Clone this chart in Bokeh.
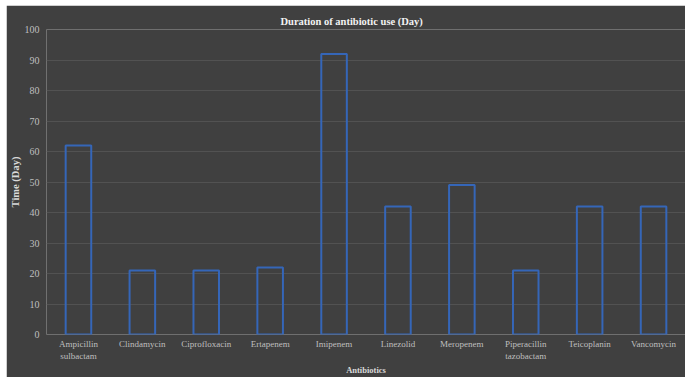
from bokeh.plotting import figure
from bokeh.models import FactorRange, FixedTicker, ColumnDataSource
from bokeh.embed import file_html
from bokeh.resources import INLINE

antibiotics = ["Ampicillin\nsulbactam", "Clindamycin", "Ciprofloxacin", "Ertapenem",
               "Imipenem", "Linezolid", "Meropenem", "Piperacillin\ntazobactam",
               "Teicoplanin", "Vancomycin"]
days = [62, 21, 21, 22, 92, 42, 49, 21, 42, 42]
y_ticks = [0, 10, 20, 30, 40, 50, 60, 70, 80, 90, 100]

BG = "#404040"
FONT = "Liberation Serif"

src = ColumnDataSource(dict(x=antibiotics, top=days))

p = figure(width=679, height=372, x_range=FactorRange(factors=antibiotics),
           y_range=(0, 100), output_backend="svg", toolbar_location=None,
           margin=(5, 2, 1, 6), min_border_left=40, min_border_right=0,
           min_border_top=24, min_border_bottom=43,
           background_fill_color=BG, border_fill_color=BG, outline_line_color=None)

p.vbar(x="x", top="top", bottom=0, width=0.4, source=src,
       fill_color=None, line_color="#3566b8", line_width=2)

p.title.text = "Duration of antibiotic use (Day)"
p.title.align = "left"
p.title.text_color = "#f2f2f2"
p.title.text_font = FONT
p.title.text_font_size = "10.5px"
p.title.text_font_style = "bold"
p.title.offset = 234
p.title.standoff = 6

p.yaxis.ticker = FixedTicker(ticks=y_ticks)

for ax in (p.xaxis[0], p.yaxis[0]):
    ax.axis_line_color = None
    ax.major_tick_line_color = None
    ax.minor_tick_line_color = None
    ax.major_tick_out = 0
    ax.major_tick_in = 0
    ax.minor_tick_out = 0
    ax.minor_tick_in = 0
    ax.major_label_text_color = "#bfbfbf"
    ax.major_label_text_font = FONT
    ax.axis_label_text_color = "#d9d9d9"
    ax.axis_label_text_font = FONT
    ax.axis_label_text_font_style = "bold"

p.xaxis.major_label_text_font_size = "9px"
p.yaxis.major_label_text_font_size = "10px"
p.xaxis.axis_label_text_font_size = "8.5px"
p.yaxis.axis_label_text_font_size = "10.5px"

p.xaxis.axis_label = "Antibiotics"
p.yaxis.axis_label = "Time (Day)"
p.xaxis.major_label_standoff = 4
p.yaxis.major_label_standoff = 7
p.xaxis.axis_label_standoff = 1
p.yaxis.axis_label_standoff = 1

p.xgrid.grid_line_color = None
p.ygrid.grid_line_color = "#525252"
p.ygrid.grid_line_width = 1

open("out.html", "w").write(file_html(p, INLINE))
